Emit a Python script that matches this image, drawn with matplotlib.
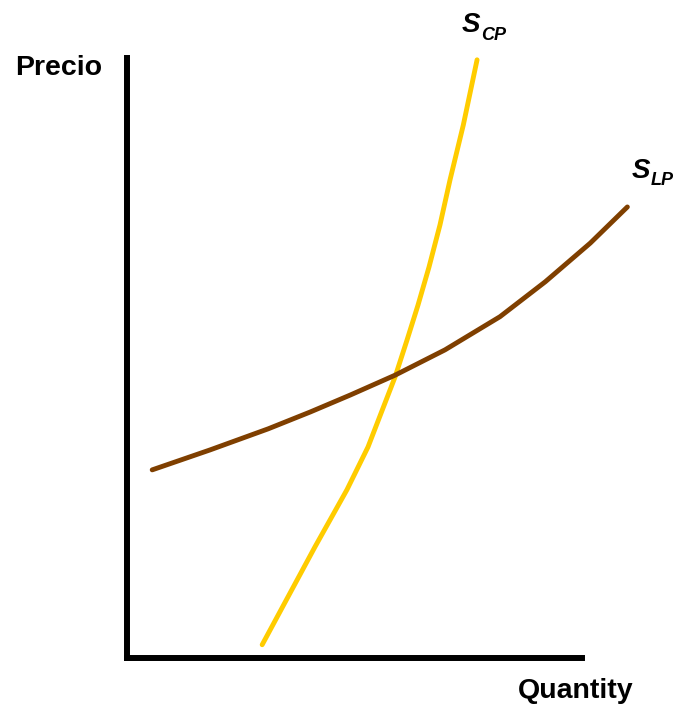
import matplotlib.pyplot as plt

plt.rcParams['font.family'] = ['Liberation Sans', 'DejaVu Sans']

# short-run supply (S_CP) (axes units 0-100)
scp_q = [29.5, 41.0, 48.0, 52.6, 55.7, 58.5, 61.1, 63.5, 65.9, 68.3, 70.5, 73.4, 76.4]
scp_p = [2.2, 18.4, 27.9, 35.0, 41.1, 46.6, 52.7, 58.5, 64.8, 71.8, 79.3, 88.4, 99.2]

# long-run supply (S_LP)
slp_q = [5.5, 18.1, 30.8, 40.0, 48.7, 58.5, 69.4, 81.4, 91.3, 101.1, 109.2]
slp_p = [31.2, 34.5, 38.0, 40.8, 43.6, 46.9, 51.1, 56.6, 62.4, 68.8, 74.8]

fig = plt.figure(figsize=(6.79, 7.10), dpi=100)
ax = fig.add_axes([127 / 679, 52 / 710, 455 / 679, 600 / 710])

ax.plot(scp_q, scp_p, color='#FFCC00', lw=3.5, solid_capstyle='round', clip_on=False)
ax.plot(slp_q, slp_p, color='#7F3F00', lw=3.5, solid_capstyle='round', clip_on=False)

ax.set_xlim(0, 99.3)
ax.set_ylim(0, 99.5)
ax.set_xticks([])
ax.set_yticks([])
for s in ['top', 'right']:
    ax.spines[s].set_visible(False)
for s in ['left', 'bottom']:
    ax.spines[s].set_linewidth(4.3)
    ax.spines[s].set_capstyle('projecting')

fig.text(59 / 679, 1 - 75 / 710, 'Precio', fontsize=20.5, fontweight='bold',
         ha='center', va='baseline')
fig.text(576 / 679, 1 - 698 / 710, 'Quantity', fontsize=20.5, fontweight='bold',
         ha='center', va='baseline')

# curve labels with subscripts
fig.text(462 / 679, 1 - 32 / 710, 'S', fontsize=20, fontweight='bold',
         style='italic', ha='left', va='baseline')
fig.text(481 / 679, 1 - 40 / 710, 'CP', fontsize=13, fontweight='bold',
         style='italic', ha='left', va='baseline')
fig.text(632 / 679, 1 - 178 / 710, 'S', fontsize=20, fontweight='bold',
         style='italic', ha='left', va='baseline')
fig.text(651 / 679, 1 - 185 / 710, 'LP', fontsize=13, fontweight='bold',
         style='italic', ha='left', va='baseline')

fig.savefig('out.png', dpi=100)
